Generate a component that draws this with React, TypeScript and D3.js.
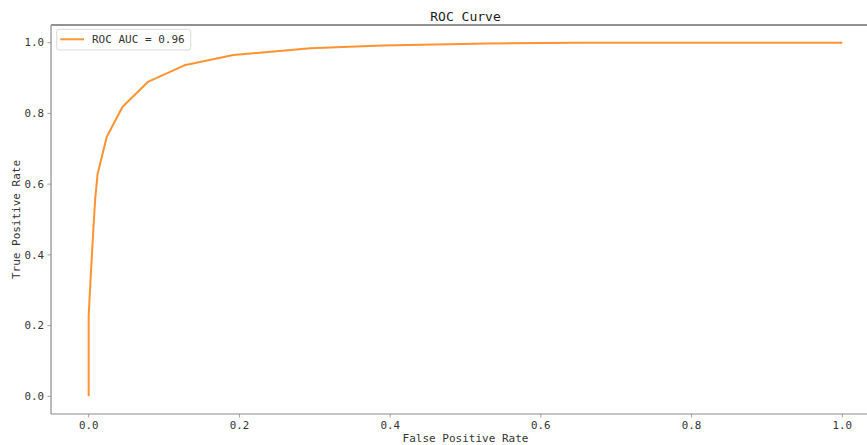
import React from "react";
import * as d3 from "d3";

const fpr = [0, 0, 0.001, 0.002, 0.0042, 0.0064, 0.0086, 0.0117, 0.024, 0.045, 0.0785, 0.127, 0.192, 0.294, 0.39, 0.53, 0.65, 1.0];
const tpr = [0, 0.226, 0.27, 0.31, 0.396, 0.48, 0.556, 0.627, 0.734, 0.819, 0.889, 0.936, 0.965, 0.984, 0.992, 0.998, 1.0, 1.0];
const xTicks = [0, 0.2, 0.4, 0.6, 0.8, 1.0];
const yTicks = [0, 0.2, 0.4, 0.6, 0.8, 1.0];
const legendLabel = "ROC AUC = 0.96";
const title = "ROC Curve";
const xLabel = "False Positive Rate";
const yLabel = "True Positive Rate";

const W = 867;
const H = 445;
const left = 51;
const right = 880;
const top = 25;
const bottom = 414;
const font = "'DejaVu Sans Mono', monospace";

export default function App() {
  const x = d3.scaleLinear().domain([-0.05, 1.05]).range([left, right]);
  const y = d3.scaleLinear().domain([-0.05, 1.05]).range([bottom, top]);
  const pts: [number, number][] = fpr.map((f, i) => [f, tpr[i]]);
  const line = d3
    .line<[number, number]>()
    .x((d) => x(d[0]))
    .y((d) => y(d[1]));
  return (
    <svg
      width={W}
      height={H}
      style={{ position: "absolute", left: 0, top: 0, background: "#fff" }}
      fontFamily={font}
    >
      <rect x={0} y={0} width={W} height={H} fill="#fff" />
      <text x={(left + right) / 2} y={21} textAnchor="middle" fontSize={13} fill="#1a1a1a">
        {title}
      </text>
      <path d={line(pts) || ""} fill="none" stroke="#ff7f0e" strokeOpacity={0.85} strokeWidth={2} strokeLinejoin="round" />
      {/* spines */}
      <line x1={left} x2={right} y1={top} y2={top} stroke="#262626" strokeWidth={1.2} />
      <line x1={left} x2={left} y1={top} y2={bottom} stroke="#8c8c8c" strokeWidth={1.2} />
      <line x1={left} x2={right} y1={bottom} y2={bottom} stroke="#8c8c8c" strokeWidth={1.2} />
      {xTicks.map((t) => (
        <g key={"x" + t}>
          <line x1={x(t)} x2={x(t)} y1={bottom} y2={bottom + 3.5} stroke="#8c8c8c" strokeWidth={0.8} />
          <text x={x(t)} y={429} textAnchor="middle" fontSize={10.8} fill="#333">
            {t.toFixed(1)}
          </text>
        </g>
      ))}
      {yTicks.map((t) => (
        <g key={"y" + t}>
          <line x1={left - 3.5} x2={left} y1={y(t)} y2={y(t)} stroke="#8c8c8c" strokeWidth={0.8} />
          <text x={44} y={y(t)} dy="0.35em" textAnchor="end" fontSize={10.8} fill="#333">
            {t.toFixed(1)}
          </text>
        </g>
      ))}
      <text x={(left + right) / 2} y={442} textAnchor="middle" fontSize={11} fill="#333">
        {xLabel}
      </text>
      <text
        transform={`translate(20, ${(top + bottom) / 2}) rotate(-90)`}
        textAnchor="middle"
        fontSize={11}
        fill="#333"
      >
        {yLabel}
      </text>
      {/* legend */}
      <rect x={56.7} y={29.3} width={134} height={20.7} rx={2.5} fill="#fff" fillOpacity={0.8} stroke="#d0d0d0" strokeWidth={0.8} />
      <line x1={60.3} x2={84} y1={39.3} y2={39.3} stroke="#ff7f0e" strokeOpacity={0.85} strokeWidth={2} />
      <text x={92} y={39.3} dy="0.35em" fontSize={11} fill="#333">
        {legendLabel}
      </text>
    </svg>
  );
}
